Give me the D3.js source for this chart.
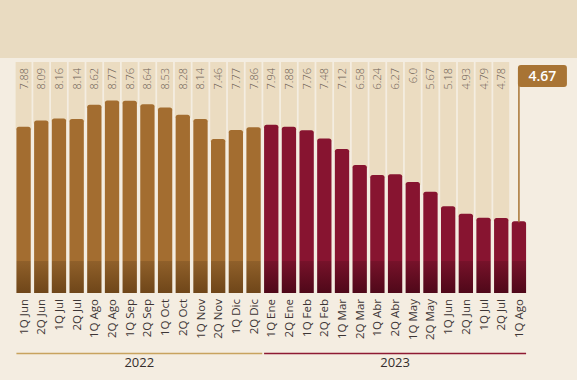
<!DOCTYPE html>
<html>
<head>
<meta charset="utf-8">
<script src="https://cdn.jsdelivr.net/npm/d3@7"></script>
<style>
  html, body { margin: 0; padding: 0; background: #f4ede1; }
  svg { display: block; font-family: "Open Sans", sans-serif; }
</style>
</head>
<body>
<svg width="577" height="380"></svg>
<script>
// quincenas 2022-2023
const labels2022 = ["1Q Jun", "2Q Jun", "1Q Jul", "2Q Jul", "1Q Ago", "2Q Ago", "1Q Sep", "2Q Sep", "1Q Oct", "2Q Oct", "1Q Nov", "2Q Nov", "1Q Dic", "2Q Dic"];
const values2022 = [7.88, 8.09, 8.16, 8.14, 8.62, 8.77, 8.76, 8.64, 8.53, 8.28, 8.14, 7.46, 7.77, 7.86];
const valueText2022 = ["7.88", "8.09", "8.16", "8.14", "8.62", "8.77", "8.76", "8.64", "8.53", "8.28", "8.14", "7.46", "7.77", "7.86"];
const labels2023 = ["1Q Ene", "2Q Ene", "1Q Feb", "2Q Feb", "1Q Mar", "2Q Mar", "1Q Abr", "2Q Abr", "1Q May", "2Q May", "1Q Jun", "2Q Jun", "1Q Jul", "2Q Jul", "1Q Ago"];
const values2023 = [7.94, 7.88, 7.76, 7.48, 7.12, 6.58, 6.24, 6.27, 6.0, 5.67, 5.18, 4.93, 4.79, 4.78, 4.67];
const valueText2023 = ["7.94", "7.88", "7.76", "7.48", "7.12", "6.58", "6.24", "6.27", "6.0", "5.67", "5.18", "4.93", "4.79", "4.78", "4.67"];
const years = ["2022", "2023"];

const data = [];
labels2022.forEach((l, i) => data.push({ key: "a" + i, label: l, value: values2022[i], text: valueText2022[i], year: 0 }));
labels2023.forEach((l, i) => data.push({ key: "b" + i, label: l, value: values2023[i], text: valueText2023[i], year: 1 }));
const lastKey = data[data.length - 1].key;

const svg = d3.select("svg");

// top band
svg.append("rect").attr("x", 0).attr("y", 0).attr("width", 577).attr("height", 58).attr("fill", "#e9dbc1");

const x = d3.scaleBand().domain(data.map(d => d.key)).range([15, 527.5]).paddingInner(0.19).paddingOuter(0.08);
const y = d3.scaleLinear().domain([2.24, 10]).range([293, 64.1]);

const defs = svg.append("defs");
const grads = [["g0", "#a36d30", "#6f4619"], ["g1", "#871430", "#4f0819"]];
grads.forEach(([id, c1, c2]) => {
  const g = defs.append("linearGradient").attr("id", id).attr("x1", 0).attr("x2", 0)
    .attr("gradientUnits", "userSpaceOnUse").attr("y1", 0).attr("y2", 380);
  g.append("stop").attr("offset", 260.5 / 380).attr("stop-color", c1);
  g.append("stop").attr("offset", 261 / 380).attr("stop-color", d3.color(c1).darker(0.35));
  g.append("stop").attr("offset", 293 / 380).attr("stop-color", c2);
});

// background columns
svg.append("g").selectAll("rect").data(data.filter(d => d.key !== lastKey)).join("rect")
  .attr("x", d => x(d.key) - 0.8)
  .attr("width", x.bandwidth() + 1.6)
  .attr("y", 62)
  .attr("height", d => y(d.value) - 62 + 3)
  .attr("fill", "#ebdcc1");

// bars, rounded top
const r = 2.5;
svg.append("g").selectAll("path").data(data).join("path")
  .attr("fill", d => d.year === 0 ? "url(#g0)" : "url(#g1)")
  .attr("d", d => {
    const x0 = x(d.key), w = x.bandwidth(), y0 = y(d.value), y1 = y(y.domain()[0]);
    return `M${x0},${y1}V${y0 + r}Q${x0},${y0} ${x0 + r},${y0}H${x0 + w - r}Q${x0 + w},${y0} ${x0 + w},${y0 + r}V${y1}Z`;
  });

// value labels
svg.append("g").selectAll("text").data(data.filter(d => d.key !== lastKey)).join("text")
  .attr("transform", d => `translate(${x(d.key) + x.bandwidth() / 2 + 4},68) rotate(-90)`)
  .attr("text-anchor", "end")
  .attr("font-size", 11)
  .attr("font-weight", 300)
  .attr("fill", "#6e6055")
  .text(d => d.text);

// highlight of last value
const last = data[data.length - 1];
const lx = x(last.key) + x.bandwidth() / 2;
svg.append("line").attr("x1", lx).attr("x2", lx).attr("y1", 80).attr("y2", y(last.value) + 1)
  .attr("stroke", "#a87434").attr("stroke-width", 1.5);
svg.append("rect").attr("x", lx - 1).attr("y", 65).attr("width", 49).attr("height", 22).attr("rx", 3)
  .attr("fill", "#a87434");
svg.append("text").attr("x", lx + 23.5).attr("y", 81).attr("text-anchor", "middle")
  .attr("font-size", 14).attr("font-weight", 600).attr("fill", "#fff").text(last.text);

// category axis
const xAxis = d3.axisBottom(x).tickSize(0).tickPadding(0).tickFormat(k => data.find(d => d.key === k).label);
const ax = svg.append("g").attr("transform", "translate(0,296)").call(xAxis);
ax.select(".domain").remove();
ax.selectAll("text")
  .attr("transform", "rotate(-90)")
  .attr("text-anchor", "end")
  .attr("dy", "0.35em")
  .attr("x", -3)
  .attr("y", 0)
  .attr("font-family", "Open Sans, sans-serif")
  .attr("font-size", 11.5)
  .attr("fill", "#3d3535");

// year brackets
const yearGroups = years.map((yr, i) => {
  const ds = data.filter(d => d.year === i);
  return { year: yr, x0: x(ds[0].key), x1: x(ds[ds.length - 1].key) + x.bandwidth(), color: i === 0 ? "#c8a35e" : "#8e1a33" };
});
yearGroups[0].x1 += 1.5;
const yg = svg.append("g").selectAll("g").data(yearGroups).join("g");
yg.append("line").attr("x1", d => d.x0).attr("x2", d => d.x1).attr("y1", 353.5).attr("y2", 353.5)
  .attr("stroke", d => d.color).attr("stroke-width", 1.3);
yg.append("text").attr("x", d => (d.x0 + d.x1) / 2).attr("y", 367).attr("text-anchor", "middle")
  .attr("font-size", 13).attr("fill", "#352d2d").text(d => d.year);
</script>
</body>
</html>
